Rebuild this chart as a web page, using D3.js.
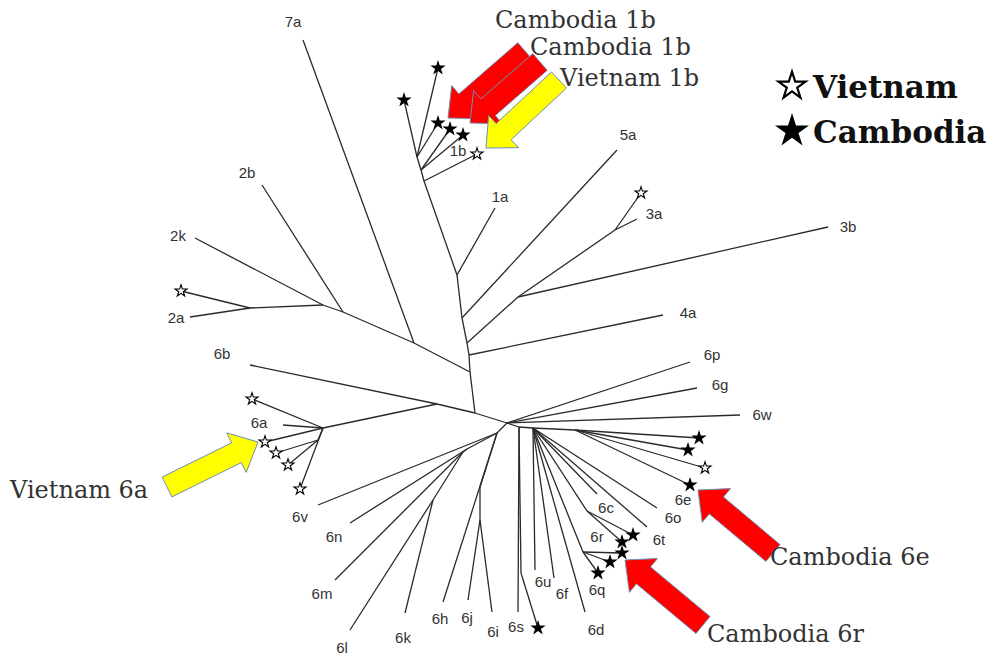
<!DOCTYPE html>
<html>
<head>
<meta charset="utf-8">
<title>HCV tree</title>
<script src="https://cdn.jsdelivr.net/npm/d3@7"></script>
<style>
  body { margin: 0; background: #fff; }
  .branch { stroke: #2a2a2a; stroke-width: 1.3; fill: none; }
  .tiplab { font-family: "Liberation Sans", Arial, sans-serif; font-size: 15px; fill: #333; }
  .note { font-family: "DejaVu Serif", serif; font-size: 24px; fill: #333; }
  .legend { font-family: "DejaVu Serif", serif; font-size: 31px; font-weight: bold; fill: #111; }
</style>
</head>
<body>
<script>
// internal branch points of the unrooted tree: id, parent, x, y (figure units)
var branchNodes = [
  ["R", null, 507, 423],
  ["A", "R", 475, 413],
  ["B", "A", 437, 404],
  ["N6a", "B", 323, 428],
  ["N6a2", "N6a", 318, 440],
  ["D", "A", 470, 372],
  ["C", "D", 414, 343],
  ["E", "C", 343, 312],
  ["F", "E", 323, 305],
  ["G", "F", 250, 308],
  ["N4a", "D", 469, 355],
  ["N3", "N4a", 467, 343],
  ["H", "N3", 518, 297],
  ["N3a", "H", 615, 230],
  ["N5", "N3", 462, 318],
  ["N1a", "N5", 457, 275],
  ["N1b", "N1a", 424, 181],
  ["N1bA", "N1b", 421, 170],
  ["N1bB", "N1bA", 417, 157],
  ["T0", "R", 497, 433],
  ["T1", "T0", 467, 449],
  ["T2", "T1", 463, 452],
  ["T3", "T2", 433, 500],
  ["U0", "T0", 480, 487],
  ["U1", "U0", 480, 520],
  ["R2", "R", 519, 427],
  ["S1", "R2", 521, 573],
  ["R3", "R2", 533, 428],
  ["Q", "R3", 583, 552],
  ["Rr", "R3", 587, 511],
  ["R4", "R3", 575, 430]
];

// leaves: parent, x, y, mark ("" none, "V" Vietnam, "C" Cambodia)
var tips = [
  ["C", 303, 40, ""], ["E", 262, 185, ""], ["F", 195, 238, ""],
  ["G", 190, 317, ""], ["G", 181, 291, "V"], ["B", 250, 365, ""],
  ["N6a", 252, 399, "V"], ["N6a", 283, 425, ""], ["N6a", 265, 442, "V"],
  ["N6a2", 276, 453, "V"], ["N6a2", 288, 465, "V"], ["N6a", 300, 489, "V"],
  ["T0", 318, 505, ""], ["T1", 350, 523, ""], ["T2", 335, 580, ""],
  ["T3", 350, 630, ""], ["T3", 405, 613, ""], ["T0", 443, 602, ""],
  ["U1", 468, 600, ""], ["U1", 492, 612, ""],
  ["R2", 518, 612, ""], ["S1", 538, 628, "C"],
  ["R3", 535, 570, ""], ["R3", 554, 578, ""], ["R3", 585, 612, ""],
  ["Q", 598, 573, "C"], ["Q", 610, 562, "C"], ["Q", 622, 553, "C"],
  ["Rr", 622, 542, "C"], ["Rr", 633, 535, "C"],
  ["R3", 597, 494, ""], ["R3", 647, 527, ""], ["R3", 657, 508, ""],
  ["R4", 690, 485, "C"], ["R4", 705, 468, "V"], ["R4", 688, 450, "C"], ["R4", 699, 438, "C"],
  ["R", 690, 362, ""], ["R", 697, 388, ""], ["R", 740, 415, ""],
  ["N3a", 641, 193, "V"], ["N3a", 637, 219, ""], ["H", 828, 227, ""],
  ["N5", 617, 150, ""], ["N4a", 663, 315, ""], ["N1a", 495, 208, ""],
  ["N1b", 477, 154, "V"], ["N1bA", 463, 135, "C"], ["N1bA", 450, 129, "C"],
  ["N1bB", 438, 123, "C"], ["N1bB", 438, 68, "C"], ["N1bB", 404, 100, "C"]
];

// genotype labels: text, x, y
var tipLabels = [
  ["7a", 293, 22], ["2b", 247, 173], ["2k", 178, 236], ["2a", 176, 318],
  ["6b", 222, 354], ["6a", 259, 423], ["6v", 300, 517], ["6n", 334, 537],
  ["6m", 322, 594], ["6l", 342, 648], ["6k", 403, 638], ["6h", 440, 619],
  ["6j", 467, 618], ["6i", 493, 632], ["6s", 516, 627], ["6u", 543, 582],
  ["6f", 562, 594], ["6q", 597, 590], ["6d", 596, 630], ["6r", 597, 537],
  ["6c", 606, 508], ["6t", 659, 540], ["6o", 673, 518], ["6e", 683, 500],
  ["6p", 712, 355], ["6g", 720, 385], ["6w", 762, 415], ["3a", 654, 214],
  ["3b", 848, 227], ["5a", 628, 135], ["4a", 688, 313], ["1a", 500, 197],
  ["1b", 458, 151]
];

// callout arrows: text, country, tailX, tailY, tipX, tipY, textX, textY
var arrows = [
  ["Cambodia 1b", "C", 525, 51, 448, 118, 495, 28],
  ["Cambodia 1b", "C", 540, 62, 470, 123, 530, 55],
  ["Vietnam 1b", "V", 559, 80, 486, 148, 560, 86],
  ["Vietnam 6a", "V", 167, 487, 258, 442, 10, 498],
  ["Cambodia 6e", "C", 773, 553, 698, 490, 770, 565],
  ["Cambodia 6r", "C", 703, 625, 625, 560, 707, 642]
];

var legendItems = [["Vietnam", "V"], ["Cambodia", "C"]];

var w = 996, h = 668;
var x = d3.scaleLinear().domain([0, 996]).range([0, w]);
var y = d3.scaleLinear().domain([0, 668]).range([0, h]);
var arrowFill = d3.scaleOrdinal().domain(["C", "V"]).range(["#ff0000", "#ffff00"]);
var starFill = d3.scaleOrdinal().domain(["C", "V"]).range(["#000", "#fff"]);

var svg = d3.select("body").append("svg")
  .attr("width", w)
  .attr("height", h);

var pos = {};
branchNodes.forEach(function(d) { pos[d[0]] = [d[2], d[3]]; });

var edges = branchNodes.filter(function(d) { return d[1]; })
  .map(function(d) { return [pos[d[1]], [d[2], d[3]]]; })
  .concat(tips.map(function(d) { return [pos[d[0]], [d[1], d[2]]]; }));

svg.append("g").selectAll("line")
  .data(edges)
  .enter()
  .append("line")
  .attr("class", "branch")
  .attr("x1", function(d) { return x(d[0][0]); })
  .attr("y1", function(d) { return y(d[0][1]); })
  .attr("x2", function(d) { return x(d[1][0]); })
  .attr("y2", function(d) { return y(d[1][1]); });

var star = d3.symbol().type(d3.symbolStar);

svg.append("g").selectAll("path")
  .data(tips.filter(function(d) { return d[3]; }))
  .enter()
  .append("path")
  .attr("d", star.size(44)())
  .attr("transform", function(d) { return "translate(" + x(d[1]) + "," + y(d[2]) + ")"; })
  .attr("fill", function(d) { return starFill(d[3]); })
  .attr("stroke", "#000")
  .attr("stroke-width", 1.1);

svg.append("g").selectAll("text")
  .data(tipLabels)
  .enter()
  .append("text")
  .attr("class", "tiplab")
  .attr("x", function(d) { return x(d[1]); })
  .attr("y", function(d) { return y(d[2]); })
  .attr("text-anchor", "middle")
  .attr("dy", "0.35em")
  .text(function(d) { return d[0]; });

// block arrows
function arrowPath(d) {
  var tx = x(d[2]), ty = y(d[3]), px = x(d[4]), py = y(d[5]);
  var len = Math.hypot(px - tx, py - ty);
  var ux = (px - tx) / len, uy = (py - ty) / len;
  var nx = -uy, ny = ux;
  var sw = 11, hw = 22, hl = 24;
  var bx = px - ux * hl, by = py - uy * hl;
  var pts = [
    [tx + nx * sw, ty + ny * sw], [bx + nx * sw, by + ny * sw], [bx + nx * hw, by + ny * hw],
    [px, py],
    [bx - nx * hw, by - ny * hw], [bx - nx * sw, by - ny * sw], [tx - nx * sw, ty - ny * sw]
  ];
  return "M" + pts.map(function(p) { return p[0].toFixed(1) + "," + p[1].toFixed(1); }).join("L") + "Z";
}

svg.append("g").selectAll("path")
  .data(arrows)
  .enter()
  .append("path")
  .attr("d", arrowPath)
  .attr("fill", function(d) { return arrowFill(d[1]); })
  .attr("stroke", "#6f8fb3")
  .attr("stroke-width", 1);

svg.append("g").selectAll("text")
  .data(arrows)
  .enter()
  .append("text")
  .attr("class", "note")
  .attr("x", function(d) { return x(d[6]); })
  .attr("y", function(d) { return y(d[7]); })
  .text(function(d) { return d[0]; });

// legend
var leg = svg.append("g").selectAll("g")
  .data(legendItems)
  .enter()
  .append("g")
  .attr("transform", function(d, i) { return "translate(792," + (86 + i * 45) + ")"; });

leg.append("path")
  .attr("d", star.size(230)())
  .attr("fill", function(d) { return starFill(d[1]); })
  .attr("stroke", "#000")
  .attr("stroke-width", 2.2);

leg.append("text")
  .attr("class", "legend")
  .attr("x", 21)
  .attr("y", 12)
  .text(function(d) { return d[0]; });
</script>
</body>
</html>
